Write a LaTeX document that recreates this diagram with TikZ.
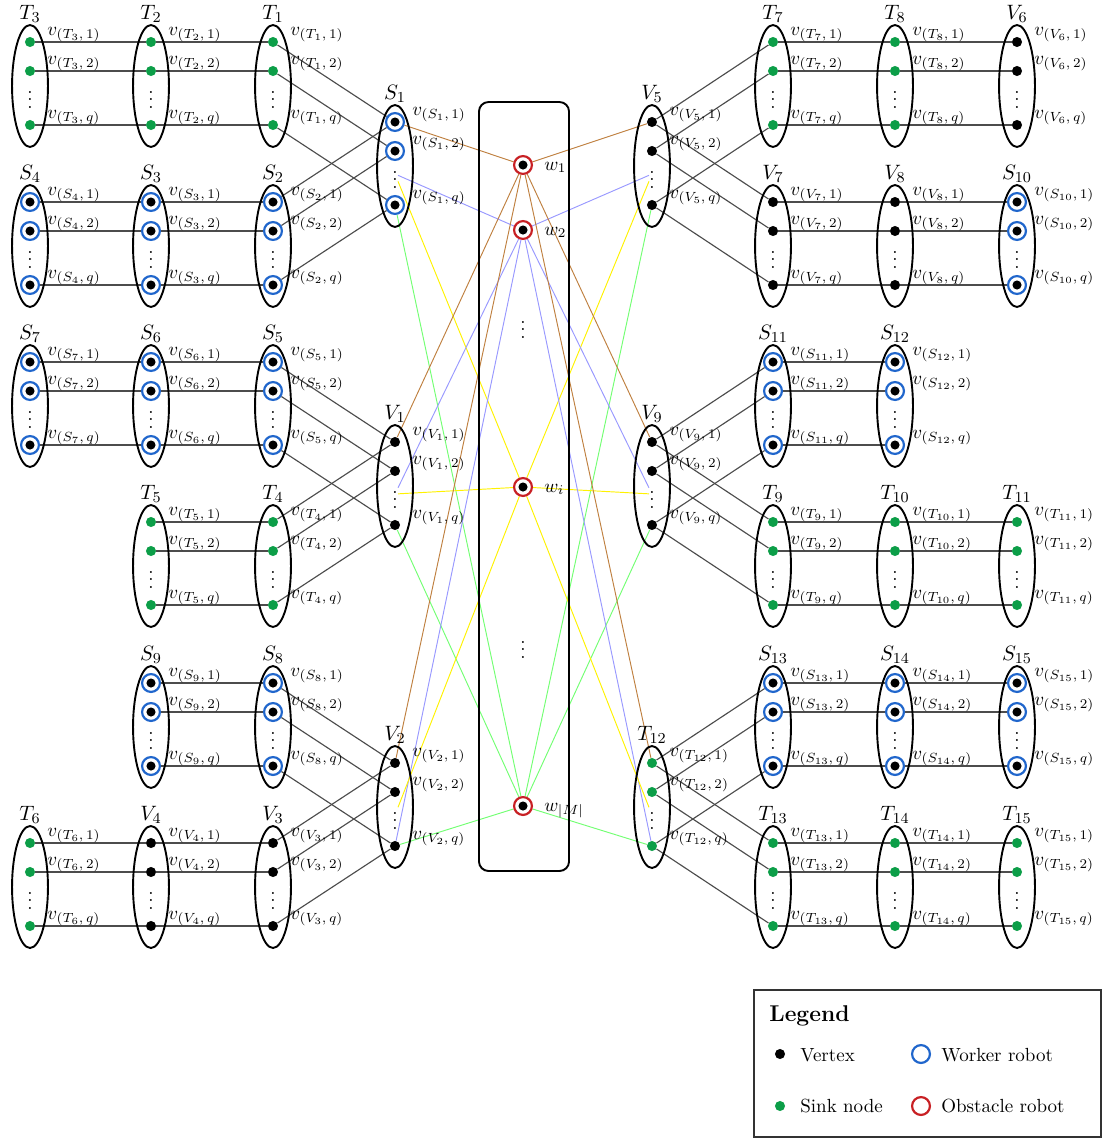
\documentclass[tikz,border=0pt]{standalone}
\usepackage{tikz}
\usetikzlibrary{shapes.geometric,backgrounds}
\definecolor{sinkgreen}{RGB}{12,158,72}
\definecolor{workerblue}{RGB}{32,102,204}
\definecolor{obstaclered}{RGB}{200,32,36}
\def \DotSize {5.3pt}
\def \RingSize {9.4pt}
\tikzstyle{vertex}=[
  circle,
  fill=black,
  inner sep=0pt,
  minimum size=\DotSize
]
\tikzstyle{sink}=[vertex, fill=sinkgreen]
\tikzstyle{ring}=[
  circle,
  line width=1.15pt,
  fill=white,
  inner sep=0pt,
  minimum size=\RingSize
]
\tikzstyle{worker}=[ring, draw=workerblue,
  path picture={\fill[black] (path picture bounding box.center) circle (2.4pt);}]
\tikzstyle{obstacle}=[worker, draw=obstaclered]
\tikzstyle{group}=[
  draw=black,
  ellipse,
  line width=1pt,
  inner sep=0pt,
  minimum width=18.9pt,
  minimum height=64.2pt
]
\tikzstyle{glabel}=[anchor=base, inner sep=0pt, font=\fontsize{11}{13}\selectfont]
\tikzstyle{vlabel}=[anchor=base west, inner sep=0pt]
\tikzstyle{dots}=[inner sep=0pt]
\tikzstyle{edge}=[draw=black!70, line width=0.6pt]
\tikzstyle{wire}=[line width=0.5pt]

\begin{document}
\begin{tikzpicture}[x=0.5263pt, y=-0.5263pt]
          \useasboundingbox (0,0) rectangle (1109,1138);

          \def \OffTwo {29}
          \def \OffQ {83}
          \def \OffDots {52}
          \def \LabX {17}
          \def \LabY {7}

          \foreach \g/\lab/\x/\y/\k in {
            T3/T_3/30/42/sink, T2/T_2/151/42/sink, T1/T_1/273/42/sink,
            S4/S_4/30/202/worker, S3/S_3/151/202/worker, S2/S_2/273/202/worker,
            S7/S_7/30/362/worker, S6/S_6/151/362/worker, S5/S_5/273/362/worker,
            T5/T_5/151/522/sink, T4/T_4/273/522/sink,
            S9/S_9/151/683/worker, S8/S_8/273/683/worker,
            T6/T_6/30/843/sink, V4/V_4/151/843/vertex, V3/V_3/273/843/vertex,
            S1/S_1/395/122/worker, V1/V_1/395/442/vertex, V2/V_2/395/763/vertex,
            V5/V_5/652/122/vertex, V9/V_9/652/442/vertex, T12/T_{12}/652/763/sink,
            T7/T_7/773/42/sink, T8/T_8/895/42/sink, V6/V_6/1017/42/vertex,
            V7/V_7/773/202/vertex, V8/V_8/895/202/vertex, S10/S_{10}/1017/202/worker,
            S11/S_{11}/773/362/worker, S12/S_{12}/895/362/worker,
            T9/T_9/773/522/sink, T10/T_{10}/895/522/sink, T11/T_{11}/1017/522/sink,
            S13/S_{13}/773/683/worker, S14/S_{14}/895/683/worker, S15/S_{15}/1017/683/worker,
            T13/T_{13}/773/843/sink, T14/T_{14}/895/843/sink, T15/T_{15}/1017/843/sink}{
            \node[group] (e\g) at (\x, \y + 44) {};
            \node[glabel] (n\g) at (\x, \y - 23) {$\lab$};
            \node[\k] (\g-1) at (\x, \y) {};
            \node[\k] (\g-2) at (\x, \y + \OffTwo) {};
            \node[\k] (\g-q) at (\x, \y + \OffQ) {};
            \node[dots] (\g-d) at (\x, \y + \OffDots) {$\vdots$};
            \node[vlabel] (l\g-1) at (\x + \LabX, \y - \LabY) {$v_{(\lab,\,1)}$};
            \node[vlabel] (l\g-2) at (\x + \LabX, \y + \OffTwo - \LabY) {$v_{(\lab,\,2)}$};
            \node[vlabel] (l\g-q) at (\x + \LabX, \y + \OffQ - \LabY) {$v_{(\lab,\,q)}$};
          }

          \node[draw, rounded corners=5pt, line width=1pt, inner sep=0pt,
            minimum width=47.4pt, minimum height=404.7pt] (box) at (524, 486.5) {};

          \foreach \w/\lab/\y in {w1/w_1/165, w2/w_2/230, wi/w_i/487, wM/w_{|M|}/806}{
            \node[obstacle] (\w) at (523, \y) {};
            \node[vlabel] (l\w) at (544, \y + 5) {$\lab$};
          }
          \node[dots] (wd1) at (523, 324) {$\vdots$};
          \node[dots] (wd2) at (523, 644) {$\vdots$};

          \begin{pgfonlayer}{background}
            \foreach \a/\b in {T3/T2, T2/T1, S4/S3, S3/S2, S7/S6, S6/S5, T5/T4,
              S9/S8, T6/V4, V4/V3, T1/S1, S2/S1, S5/V1, T4/V1, S8/V2, V3/V2,
              T7/T8, T8/V6, V7/V8, V8/S10, S11/S12, T9/T10, T10/T11,
              S13/S14, S14/S15, T13/T14, T14/T15,
              V5/T7, V5/V7, V9/S11, V9/T9, T12/S13, T12/T13}{
              \foreach \i in {1,2,q}{
                \draw[edge] (\a-\i) -- (\b-\i);
              }
            }

            \foreach \g/\e in {S1/d, V5/d, V1/d, V9/d, V2/q, T12/q}{
              \draw[wire, brown] (w1) -- (\g-1);
              \draw[wire, blue!40] (w2) -- (\g-\e);
              \draw[wire, yellow] (wi) -- (\g-d);
              \draw[wire, green!55] (wM) -- (\g-q);
            }
          \end{pgfonlayer}

          \node[draw=black!80, line width=0.6pt, inner sep=0pt,
            minimum width=182.6pt, minimum height=77.4pt] (legend) at (927.5, 1063.5) {};
          \node[vlabel, font=\large\bfseries] (legendtitle) at (769, 1021) {Legend};
          \node[vertex] (keyvertex) at (780, 1054) {};
          \node[vlabel] (keyvertextext) at (800, 1061) {Vertex};
          \node[ring, draw=workerblue] (keyworker) at (921, 1054) {};
          \node[vlabel] (keyworkertext) at (941, 1061) {Worker robot};
          \node[sink] (keysink) at (780, 1106) {};
          \node[vlabel] (keysinktext) at (800, 1112) {Sink node};
          \node[ring, draw=obstaclered] (keyobstacle) at (921, 1106) {};
          \node[vlabel] (keyobstacletext) at (941, 1112) {Obstacle robot};
        \end{tikzpicture}
\end{document}
